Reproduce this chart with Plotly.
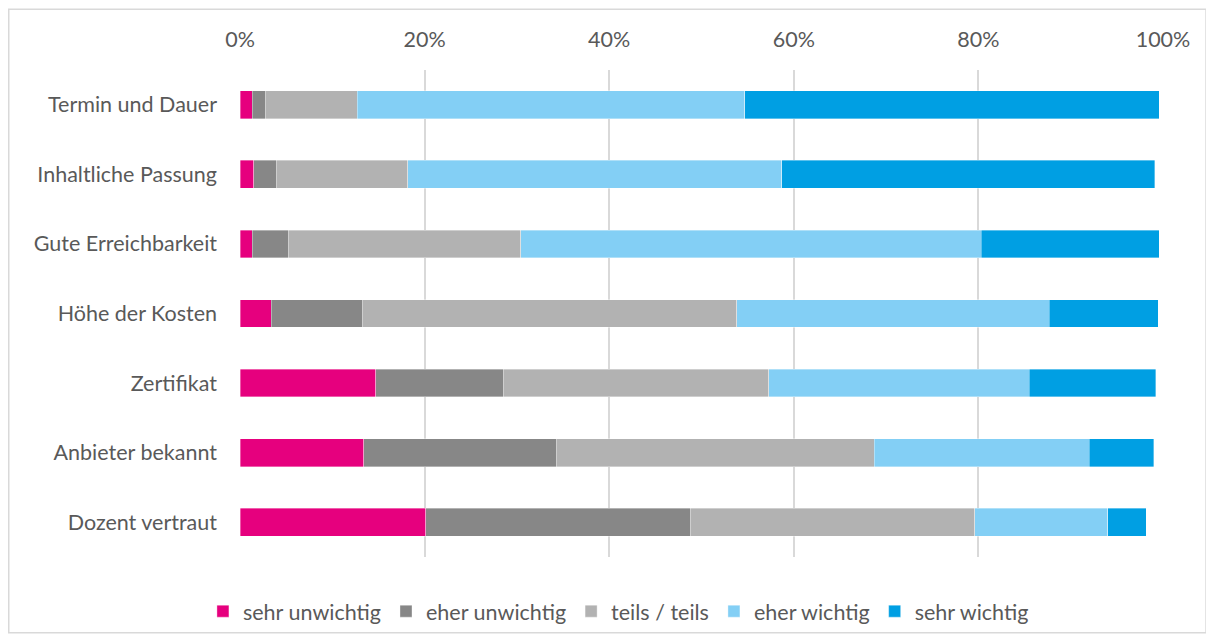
import plotly.graph_objects as go

categories = ["Termin und Dauer", "Inhaltliche Passung", "Gute Erreichbarkeit",
              "Höhe der Kosten", "Zertifikat", "Anbieter bekannt", "Dozent vertraut"]

sehr_unwichtig = [1.3, 1.5, 1.3, 3.4, 14.7, 13.4, 20.1]
eher_unwichtig = [1.5, 2.5, 3.9, 9.9, 13.8, 20.9, 28.7]
teils_teils = [9.9, 14.2, 25.2, 40.5, 28.8, 34.4, 30.8]
eher_wichtig = [42.0, 40.5, 49.9, 33.9, 28.2, 23.3, 14.4]
sehr_wichtig = [44.9, 40.4, 19.3, 11.8, 13.7, 7.0, 4.2]

series_names = ["sehr unwichtig", "eher unwichtig", "teils / teils", "eher wichtig", "sehr wichtig"]
series_values = [sehr_unwichtig, eher_unwichtig, teils_teils, eher_wichtig, sehr_wichtig]
colors = ["#E6007E", "#878787", "#B2B2B2", "#83CFF5", "#009FE3"]

tick_vals = [0, 20, 40, 60, 80, 100]
tick_text = ["0%", "20%", "40%", "60%", "80%", "100%"]

FONT = "Lato, 'Open Sans', sans-serif"
TXT = "#595959"
FS = 21.5

fig = go.Figure()
for name, vals, col in zip(series_names, series_values, colors):
    fig.add_trace(go.Bar(
        y=categories, x=vals, name=name, orientation="h",
        marker=dict(color=col, line=dict(color="rgba(255,255,255,0.45)", width=0.8)),
        width=0.4,
    ))

# page body has an 8px margin: figure occupies screen x 8..1214, y 8..643
fig.update_layout(
    barmode="stack",
    width=1206, height=635,
    margin=dict(l=232, r=51, t=62, b=85),
    paper_bgcolor="white", plot_bgcolor="white",
    font=dict(family=FONT, size=FS, color=TXT),
    showlegend=True,
    legend=dict(orientation="h", x=0.41, xanchor="center", y=-0.109, yanchor="middle",
                font=dict(family=FONT, size=FS, color=TXT), itemwidth=30,
                traceorder="normal", itemclick=False),
    xaxis=dict(side="top", range=[0, 100], tickvals=tick_vals, ticktext=tick_text,
               showgrid=True, gridcolor="#D9D9D9", gridwidth=1.5, zeroline=False,
               showline=False, ticks="", ticklabelstandoff=18,
               tickfont=dict(family=FONT, size=FS, color=TXT), fixedrange=True),
    yaxis=dict(autorange="reversed", showgrid=False, zeroline=False, showline=False,
               ticks="", ticklabelstandoff=22,
               tickfont=dict(family=FONT, size=FS, color=TXT), fixedrange=True),
    shapes=[dict(type="rect", xref="paper", yref="paper",
                 x0=(9 - 240) / 922, x1=(1205 - 240) / 922,
                 y0=(558 - 634) / 488, y1=(558 - 9) / 488,
                 line=dict(color="#D9D9D9", width=1.5), fillcolor="rgba(0,0,0,0)",
                 layer="below")],
)

fig.write_html("out.html")
